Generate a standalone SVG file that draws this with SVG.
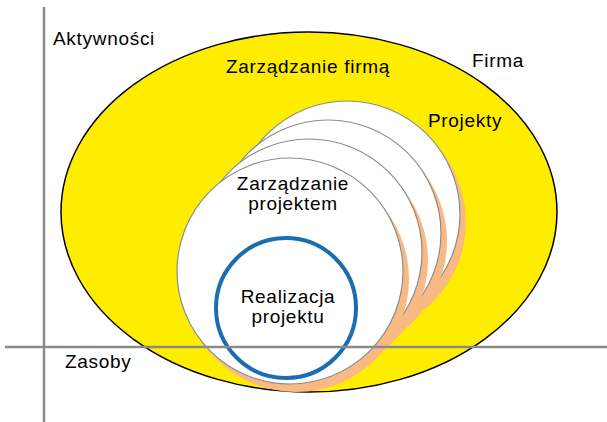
<svg xmlns="http://www.w3.org/2000/svg" width="607" height="422" viewBox="0 0 607 422">
  <defs>
    <style>
      .lbl { font-family: "Liberation Sans", "DejaVu Sans", sans-serif; font-size: 19px; fill: #000; letter-spacing: 0.7px; }
      .mid { text-anchor: middle; }
      .axis { stroke: #8a8a8a; stroke-width: 2.5; fill: none; }
      .proj { fill: #fff; stroke: #8c8c8c; stroke-width: 1.2; }
      .shade { fill: #f9b985; }
    </style>
    <circle id="projCircle" r="113" class="proj"/>
    <circle id="projShade" r="113" class="shade"/>
  </defs>

  <!-- company -->
  <g id="firma">
    <ellipse cx="309" cy="212" rx="248" ry="180" fill="#ffed00" stroke="#000" stroke-width="1.5"/>
    <text class="lbl mid" x="308" y="73">Zarządzanie firmą</text>
    <text class="lbl mid" x="498" y="67">Firma</text>
  </g>

  <!-- stack of projects, back to front -->
  <g id="projekty">
    <use href="#projShade" x="353" y="222"/>
    <use href="#projCircle" x="347" y="214"/>
    <use href="#projShade" x="334" y="241"/>
    <use href="#projCircle" x="328" y="233"/>
    <use href="#projShade" x="315" y="260"/>
    <use href="#projCircle" x="309" y="252"/>
    <use href="#projShade" x="296" y="279"/>
    <use href="#projCircle" x="290" y="271"/>
    <text class="lbl mid" x="465" y="127">Projekty</text>
    <text class="lbl mid" x="293" y="190">Zarządzanie</text>
    <text class="lbl mid" x="293" y="210">projektem</text>
  </g>

  <!-- project execution -->
  <g id="realizacja">
    <circle cx="286" cy="308" r="70" fill="none" stroke="#1b6db2" stroke-width="4"/>
    <text class="lbl mid" x="288" y="303">Realizacja</text>
    <text class="lbl mid" x="288" y="323">projektu</text>
  </g>

  <!-- axes -->
  <g id="osie">
    <line class="axis" x1="44" y1="7" x2="44" y2="422"/>
    <line class="axis" x1="5" y1="347" x2="607" y2="347"/>
    <text class="lbl" x="53" y="45">Aktywności</text>
    <text class="lbl" x="65" y="368">Zasoby</text>
  </g>
</svg>
